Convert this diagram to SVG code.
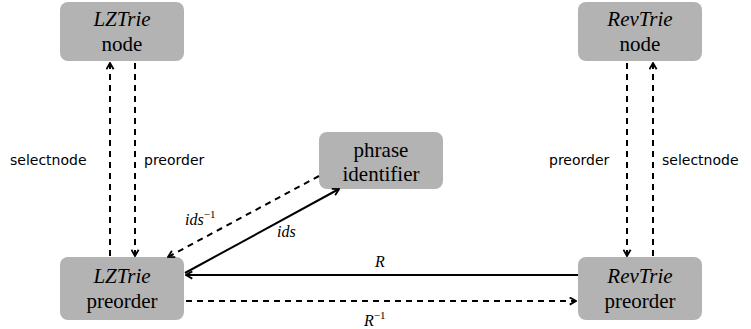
<svg xmlns="http://www.w3.org/2000/svg" width="751" height="329" viewBox="0 0 751 329">
<style>
.box{fill:#b3b3b3;stroke:none}
.t{font-size:21px;fill:#000;text-anchor:middle}
.m{font-style:italic}
.lbl{font-size:14px;fill:#000}
.ml{font-style:italic;font-size:16px;fill:#000}
.s{stroke:#000;stroke-width:2;fill:none}
.d{stroke-dasharray:6,5}
</style>
<defs>
<marker id="ah" viewBox="0 0 10 10" refX="9" refY="5" markerWidth="9" markerHeight="9" orient="auto" markerUnits="userSpaceOnUse">
<path d="M2,1 L9,5 L2,9" fill="none" stroke="#000" stroke-width="2"/>
</marker>
</defs>
<g id="lz-node" font-family="Liberation Serif, serif"><rect class="box" x="60" y="2" width="124" height="59" rx="8"/><text class="t m" x="122" y="26">LZTrie</text><text class="t" x="122" y="51">node</text></g>
<g id="lz-pre" font-family="Liberation Serif, serif"><rect class="box" x="60" y="257" width="124" height="63" rx="8"/><text class="t m" x="122" y="283">LZTrie</text><text class="t" x="122" y="308">preorder</text></g>
<g id="phrase" font-family="Liberation Serif, serif"><rect class="box" x="319" y="132" width="124" height="57" rx="8"/><text class="t" x="381" y="157">phrase</text><text class="t" x="381" y="181">identifier</text></g>
<g id="rev-node" font-family="Liberation Serif, serif"><rect class="box" x="578" y="2" width="124" height="59" rx="8"/><text class="t m" x="640" y="26">RevTrie</text><text class="t" x="640" y="51">node</text></g>
<g id="rev-pre" font-family="Liberation Serif, serif"><rect class="box" x="578" y="257" width="124" height="63" rx="8"/><text class="t m" x="640" y="283">RevTrie</text><text class="t" x="640" y="308">preorder</text></g>
<g id="connectors">
<line class="s d" x1="110" y1="256" x2="110" y2="63" marker-end="url(#ah)"/>
<line class="s d" x1="135" y1="63" x2="135" y2="256" marker-end="url(#ah)"/>
<line class="s d" x1="627" y1="63" x2="627" y2="256" marker-end="url(#ah)"/>
<line class="s d" x1="653" y1="256" x2="653" y2="63" marker-end="url(#ah)"/>
<line class="s d" x1="319" y1="176" x2="168" y2="257" marker-end="url(#ah)"/>
<line class="s" x1="185" y1="273" x2="339" y2="189" marker-end="url(#ah)"/>
<line class="s" x1="578" y1="275" x2="186" y2="275" marker-end="url(#ah)"/>
<line class="s d" x1="186" y1="301" x2="576" y2="301" marker-end="url(#ah)"/>
<g font-family="DejaVu Sans, sans-serif">
<text class="lbl" x="10" y="165">selectnode</text>
<text class="lbl" x="144" y="165">preorder</text>
<text class="lbl" x="549" y="165">preorder</text>
<text class="lbl" x="662" y="165">selectnode</text>
</g>
<g font-family="Liberation Serif, serif">
<text class="ml" x="185" y="225">ids<tspan font-size="11" dy="-7" font-style="normal">−1</tspan></text>
<text class="ml" x="277" y="237">ids</text>
<text class="ml" x="375" y="267">R</text>
<text class="ml" x="364" y="326">R<tspan font-size="11" dy="-7" font-style="normal">−1</tspan></text>
</g>
</g>
</svg>
